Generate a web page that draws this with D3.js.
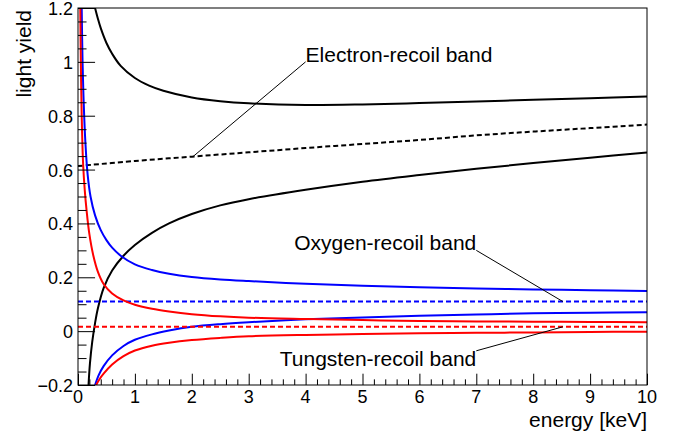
<!DOCTYPE html>
<html>
<head>
<meta charset="utf-8">
<script src="https://cdn.jsdelivr.net/npm/d3@7"></script>
<style>
  body { margin: 0; background: #fff; }
  svg { display: block; font-family: "Liberation Sans", Arial, sans-serif; }
  .tick-label { font-size: 18px; fill: #000; }
  .title { font-size: 21px; fill: #000; }
</style>
</head>
<body>
<div id="chart"></div>
<script>
// electron-recoil band: upper edge, mean (dotted), lower edge  [energy keV, light yield]
const erUpper = [[0.30,1.2],[0.35,1.16],[0.4,1.125],[0.5,1.07],[0.6,1.03],[0.75,0.985],[1,0.94],[1.25,0.912],[1.5,0.893],[2,0.868],[2.5,0.854],[3,0.846],[4,0.84],[5,0.842],[6,0.847],[7,0.853],[8,0.859],[9,0.865],[10,0.871]];
const erMean = [[0,0.613],[1,0.632],[2,0.648],[3,0.664],[4,0.68],[5,0.695],[6,0.71],[7,0.727],[8,0.741],[9,0.754],[10,0.767]];
const erLower = [[0.185,-0.2],[0.21,-0.12],[0.25,-0.04],[0.3,0.03],[0.35,0.085],[0.45,0.16],[0.6,0.225],[0.8,0.28],[1,0.32],[1.3,0.365],[1.6,0.4],[2,0.435],[2.5,0.467],[3,0.49],[4,0.525],[5,0.555],[6,0.58],[7,0.603],[8,0.624],[9,0.644],[10,0.663]];

// oxygen-recoil band
const oUpper = [[0.065,1.2],[0.08,1.0],[0.1,0.85],[0.13,0.7],[0.17,0.58],[0.22,0.5],[0.3,0.43],[0.4,0.375],[0.5,0.338],[0.6,0.31],[0.75,0.28],[1,0.248],[1.3,0.227],[1.6,0.213],[2,0.201],[2.5,0.192],[3,0.186],[4,0.176],[5,0.169],[6,0.163],[7,0.158],[8,0.155],[9,0.152],[10,0.149]];
const oMean = [[0,0.11],[10,0.11]];
const oLower = [[0.3,-0.2],[0.36,-0.165],[0.45,-0.13],[0.6,-0.09],[0.8,-0.055],[1,-0.032],[1.3,-0.012],[1.6,0.002],[2,0.016],[2.5,0.026],[3,0.033],[4,0.044],[5,0.051],[6,0.057],[7,0.062],[8,0.066],[9,0.068],[10,0.07]];

// tungsten-recoil band
const wUpper = [[0.04,1.2],[0.05,1.0],[0.065,0.8],[0.09,0.62],[0.12,0.52],[0.15,0.45],[0.2,0.36],[0.27,0.28],[0.35,0.22],[0.45,0.175],[0.6,0.14],[0.8,0.114],[1,0.098],[1.3,0.083],[1.6,0.073],[2,0.063],[2.5,0.055],[3,0.05],[4,0.045],[5,0.041],[6,0.038],[7,0.036],[8,0.035],[9,0.034],[10,0.033]];
const wMean = [[0,0.016],[10,0.016]];
const wLower = [[0.32,-0.2],[0.38,-0.178],[0.45,-0.158],[0.6,-0.124],[0.8,-0.093],[1,-0.072],[1.3,-0.054],[1.6,-0.043],[2,-0.033],[2.5,-0.025],[3,-0.019],[4,-0.014],[5,-0.011],[6,-0.008],[7,-0.006],[8,-0.005],[9,-0.003],[10,-0.002]];

const xTicks = [0,1,2,3,4,5,6,7,8,9,10];
const yTicks = [-0.2,0,0.2,0.4,0.6,0.8,1,1.2];
const yTickLabels = ["\u22120.2","0","0.2","0.4","0.6","0.8","1","1.2"];

// band labels: text anchor and pointer end, in data units
const labels = [
  { text: "Electron-recoil band", tx: 4.0, ty: 1.0, anchor: "start", lx: 4.0, ly: 1.0, px: 2.02, py: 0.648 },
  { text: "Oxygen-recoil band", tx: 7.0, ty: 0.3, anchor: "end", lx: 7.0, ly: 0.3, px: 8.52, py: 0.11 },
  { text: "Tungsten-recoil band", tx: 7.0, ty: -0.128, anchor: "end", lx: 7.0, ly: -0.073, px: 8.52, py: 0.016 }
];

const width = 682, height = 439;
const margin = { top: 8, right: 35, bottom: 54, left: 78 };

const svg = d3.select("#chart").append("svg")
  .attr("width", width)
  .attr("height", height);

const x = d3.scaleLinear().domain([0, 10]).range([margin.left, width - margin.right]);
const y = d3.scaleLinear().domain([-0.2, 1.2]).range([height - margin.bottom, margin.top]);

const plotW = x(10) - x(0), plotH = y(-0.2) - y(1.2);

svg.append("clipPath").attr("id", "clip")
  .append("rect")
  .attr("x", x(0)).attr("y", y(1.2))
  .attr("width", plotW).attr("height", plotH);

// curves
const line = d3.line()
  .x(d => x(d[0]))
  .y(d => y(d[1]))
  .curve(d3.curveCatmullRom.alpha(0.5));

const curves = [
  { data: erUpper, color: "#000", dash: null },
  { data: erMean, color: "#000", dash: "5,3" },
  { data: erLower, color: "#000", dash: null },
  { data: oUpper, color: "#0000ff", dash: null },
  { data: oMean, color: "#0000ff", dash: "5,3" },
  { data: oLower, color: "#0000ff", dash: null },
  { data: wUpper, color: "#ff0000", dash: null },
  { data: wMean, color: "#ff0000", dash: "5,3" },
  { data: wLower, color: "#ff0000", dash: null }
];

svg.append("g")
  .attr("clip-path", "url(#clip)")
  .selectAll("path")
  .data(curves)
  .join("path")
  .attr("fill", "none")
  .attr("stroke", d => d.color)
  .attr("stroke-width", 2)
  .attr("stroke-dasharray", d => d.dash)
  .attr("d", d => line(d.data));

// frame
svg.append("rect")
  .attr("x", x(0)).attr("y", y(1.2))
  .attr("width", plotW).attr("height", plotH)
  .attr("fill", "none")
  .attr("stroke", "#000")
  .attr("stroke-width", 1);

// x axis, ROOT style ticks pointing inward
const xMajorLen = 0.03 * plotH, yMajorLen = 0.03 * plotW;
const xAxis = d3.axisBottom(x)
  .tickValues(d3.range(0, 10.001, 0.2))
  .tickSize(0)
  .tickFormat("");
const gx = svg.append("g")
  .attr("transform", `translate(0,${y(-0.2)})`)
  .call(xAxis);
gx.select(".domain").remove();
gx.selectAll(".tick line")
  .attr("y2", d => -(Math.abs(d - Math.round(d)) < 1e-6 ? xMajorLen : xMajorLen / 2))
  .attr("stroke", "#000");

svg.append("g").selectAll("text")
  .data(xTicks)
  .join("text")
  .attr("class", "tick-label")
  .attr("x", d => x(d))
  .attr("y", y(-0.2) + 18)
  .attr("text-anchor", "middle")
  .text(d => d);

// y axis
const yAxis = d3.axisLeft(y)
  .tickValues(d3.range(-0.2, 1.2001, 0.05))
  .tickSize(0)
  .tickFormat("");
const gy = svg.append("g")
  .attr("transform", `translate(${x(0)},0)`)
  .call(yAxis);
gy.select(".domain").remove();
gy.selectAll(".tick line")
  .attr("x2", d => {
    const k = d / 0.2;
    return Math.abs(k - Math.round(k)) < 1e-6 ? yMajorLen : yMajorLen / 2;
  })
  .attr("stroke", "#000");

svg.append("g").selectAll("text")
  .data(yTicks)
  .join("text")
  .attr("class", "tick-label")
  .attr("x", x(0) - 5)
  .attr("y", d => y(d) + 7)
  .attr("text-anchor", "end")
  .text((d, i) => yTickLabels[i]);

// axis titles
svg.append("text")
  .attr("class", "title")
  .attr("x", x(10))
  .attr("y", 427)
  .attr("text-anchor", "end")
  .text("energy [keV]");

svg.append("text")
  .attr("class", "title")
  .attr("transform", `translate(31,${y(1.2) + 2}) rotate(-90)`)
  .attr("text-anchor", "end")
  .text("light yield");

// band labels with pointer lines
const ann = svg.append("g");
ann.selectAll("line")
  .data(labels)
  .join("line")
  .attr("x1", d => x(d.lx)).attr("y1", d => y(d.ly))
  .attr("x2", d => x(d.px)).attr("y2", d => y(d.py))
  .attr("stroke", "#000")
  .attr("stroke-width", 1);
ann.selectAll("text")
  .data(labels)
  .join("text")
  .attr("class", "title")
  .attr("x", d => x(d.tx))
  .attr("y", d => y(d.ty))
  .attr("text-anchor", d => d.anchor)
  .text(d => d.text);
</script>
</body>
</html>
